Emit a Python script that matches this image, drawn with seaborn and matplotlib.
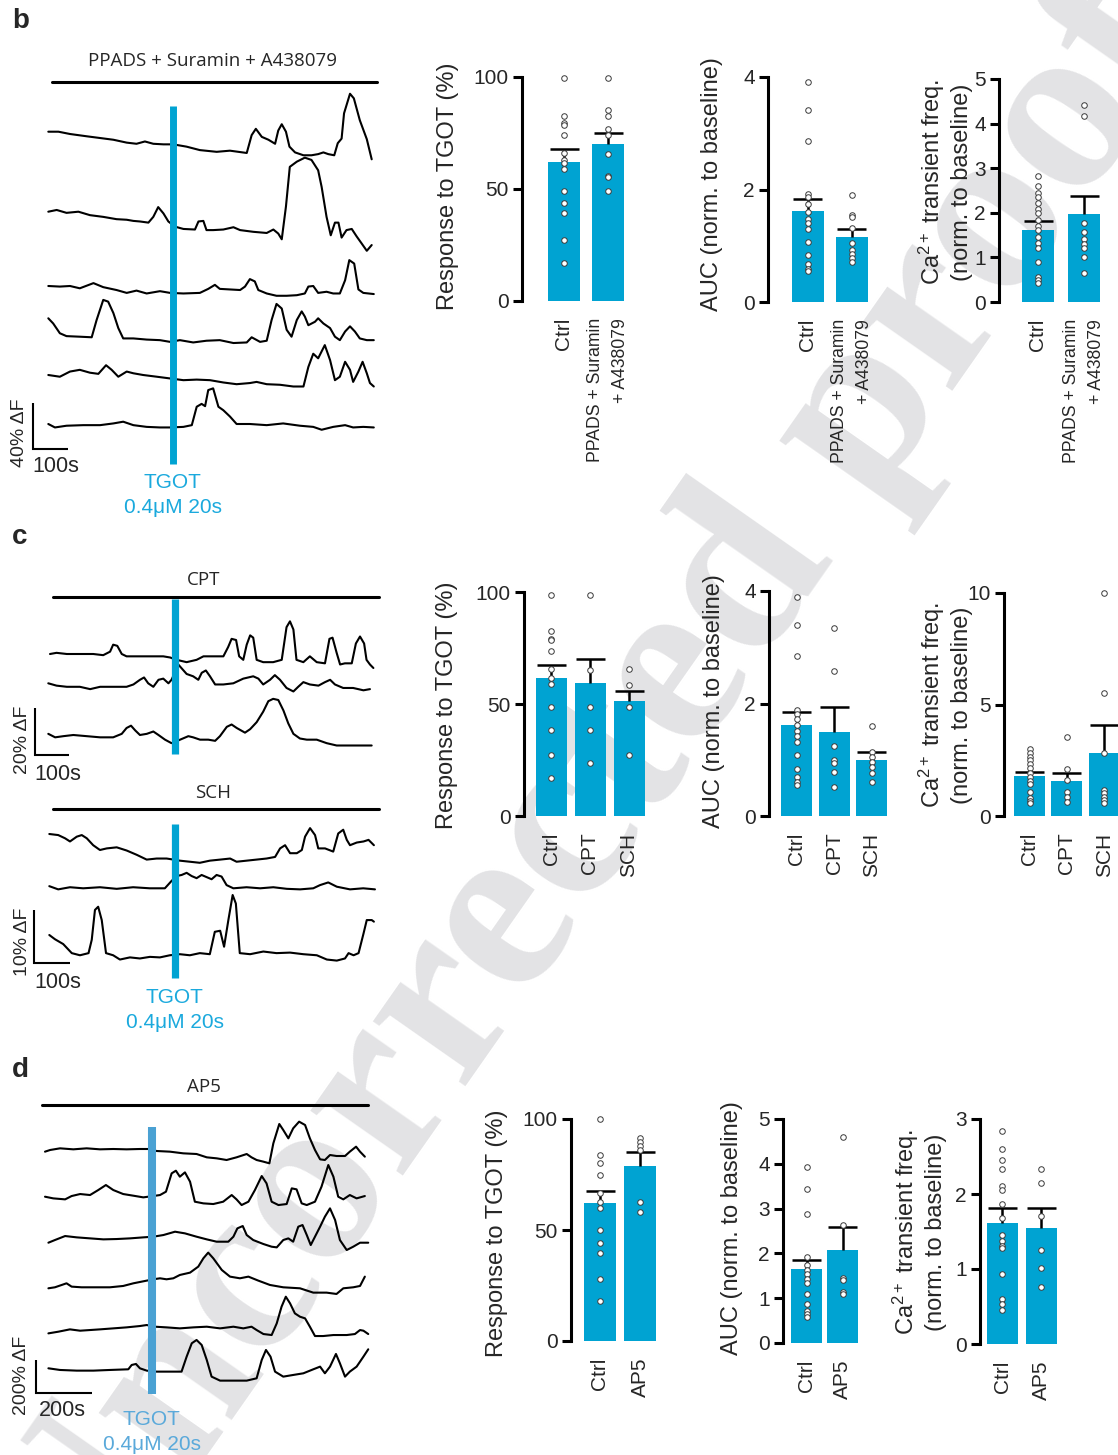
import numpy as np
import matplotlib
matplotlib.use("Agg")
import matplotlib.pyplot as plt
import seaborn as sns

# ---------------- traces (time in s, dF in %) ----------------
# panel b : PPADS + Suramin + A438079
b_t1 = [0, 29, 62, 110, 148, 186, 224, 252, 276, 300, 329, 357, 395, 433, 481, 519, 567, 581, 593, 610, 629, 648, 657, 667, 679, 689, 705, 729, 752, 771, 786, 800, 817, 827, 838, 845, 862, 873, 890, 910, 924]
b_y1 = [0, 0, -2, -4, -5.5, -7, -9.5, -10.5, -8.5, -10.5, -11, -11, -13, -16, -17.5, -16.5, -18.5, -3, 2.5, -4.5, -7, -10.5, 1, 6.5, 0, -13, -18, -20.5, -20.5, -19.5, -18, -19.5, -20.5, -10, -6, 16, 33, 29, 10, -6.5, -24]
b_t2 = [0, 24, 52, 86, 119, 157, 195, 224, 243, 262, 286, 300, 314, 329, 343, 362, 386, 419, 429, 443, 452, 471, 500, 529, 548, 586, 624, 643, 657, 667, 679, 690, 710, 733, 752, 771, 781, 795, 807, 819, 829, 838, 852, 867, 881, 895, 910, 924]
b_y2 = [0, 1.5, -1, 0, -3, -4.5, -6.5, -7, -8, -8.5, -9.5, -4.5, 4, -1.5, -8.5, -13, -15, -15.5, -8.5, -8, -16, -16, -15.5, -13.5, -16, -17.5, -18.5, -15.5, -19, -24, 4.5, 39, 43.5, 47, 45, 36, 21.5, -4.5, -20.5, -9.5, -9.5, -22.5, -16, -15, -21.5, -27.5, -34, -29]
b_t3 = [0, 33, 62, 90, 129, 157, 195, 224, 252, 281, 319, 348, 386, 433, 457, 476, 490, 519, 548, 562, 576, 590, 600, 624, 652, 681, 710, 733, 743, 757, 771, 795, 814, 833, 848, 860, 874, 886, 900, 930]
b_y3 = [0, -0.5, 0, -2, 2.5, -1, -3.5, -6, -4, -6.5, -4.5, -6, -6.5, -6, -2.5, 1, -2.5, -3, -3.5, -0.5, 6, 4, -3.5, -6.5, -8.5, -8.5, -8, -6.5, -0.5, 0, -6, -5, -6.5, -6.5, 5, 22.5, 19.5, -3, -6, -7]
b_t4 = [0, 14, 33, 52, 90, 124, 138, 157, 171, 186, 200, 214, 243, 281, 319, 348, 376, 414, 452, 490, 529, 567, 581, 605, 624, 638, 652, 667, 681, 695, 710, 724, 733, 743, 762, 771, 786, 805, 819, 833, 848, 862, 876, 890, 910, 930]
b_y4 = [0, -4.5, -13, -15.5, -16, -16.5, -1.5, 16, 14.5, 4.5, -8.5, -17.5, -17.5, -18.5, -19, -20.5, -19, -21, -19.5, -19, -21.5, -21, -16.5, -20.5, -19.5, -1.5, 12.5, 8.5, -10, -16, -1.5, 6, 1.5, -6, -3, 0, -4.5, -8.5, -16, -19, -11.5, -7, -11.5, -17.5, -19, -19]
b_t5 = [0, 33, 62, 90, 119, 143, 165, 181, 200, 224, 243, 271, 310, 348, 386, 424, 462, 500, 538, 576, 595, 624, 662, 700, 729, 743, 757, 771, 790, 805, 819, 833, 848, 862, 871, 886, 898, 910, 919, 930]
b_y5 = [0, -1.5, 3, 4.5, 2, 1, 8.5, 4.5, -1.5, 3, 1.5, 0, -1.5, -3, -4.5, -4, -4.5, -6.5, -8, -7, -6, -8, -8.5, -10, -10, 7, 18.5, 14.5, 26, 13, -4.5, -1.5, 11.5, 4.5, -6, 3, 11.5, 1.5, -7, -10]
b_t6 = [0, 19, 52, 100, 148, 186, 214, 243, 281, 319, 348, 386, 410, 424, 438, 448, 457, 471, 486, 500, 519, 538, 576, 624, 671, 719, 757, 781, 814, 848, 871, 900, 930]
b_y6 = [0, -3, -1.5, -1, -1, 0.5, 2, -1, -2.5, -3, -3, -2.5, -1, 15, 17.5, 15.5, 29.5, 31, 15, 12, 6.5, 0, 0, -1, 0.5, -1.5, -2.5, -5, -2.5, -1, -3, -2.5, -3]

# panel c : CPT
c_t1 = [0, 19, 49, 87, 126, 155, 175, 184, 196, 209, 223, 262, 301, 330, 350, 369, 398, 427, 447, 476, 505, 519, 529, 542, 551, 563, 573, 583, 592, 602, 621, 650, 675, 689, 699, 709, 718, 738, 757, 777, 801, 814, 823, 835, 845, 859, 879, 891, 903, 915, 922, 932, 942]
c_y1 = [0, 0.5, 0, 0, 0, -0.5, 1, 4, 3.5, 0, -1, -1, -1, -1, -1.5, -2.5, -3.5, -2.5, -1, -1, -1, 3, 6.5, 6, -1, -2.5, 4, 8, 7, -2.5, -3.5, -3.5, -2.5, 11.5, 14, 10.5, -2.5, -3.5, -1, -3.5, -4, 6.5, 7, 0.5, -4.5, -4, -4, 4.5, 7.5, 4.5, -2.5, -4.5, -6]
c_t2 = [-5, 19, 49, 87, 117, 146, 184, 223, 243, 262, 274, 286, 301, 316, 330, 345, 354, 374, 398, 417, 432, 442, 454, 466, 481, 505, 534, 563, 592, 607, 621, 641, 655, 670, 689, 709, 723, 738, 757, 782, 801, 816, 830, 854, 883, 913, 932]
c_y2 = [0, -1, -1.5, -1.5, -2.5, -1.5, -1.5, -1.5, -0.5, 1.5, 2.5, 0, -1.5, 1.5, 2, 0, 1.5, 8, 4, 3, 1.5, 4.5, 5.5, 3, -0.5, -0.5, 0, 2, 3, 2, -0.5, 1.5, 3.5, 1.5, -2, -3.5, -1.5, 0.5, -0.5, -1, 0.5, 1.5, -0.5, -2, -2, -3, -2.5]
c_t3 = [-5, 15, 39, 68, 107, 146, 184, 209, 223, 236, 248, 262, 282, 301, 316, 335, 354, 379, 403, 417, 437, 461, 481, 495, 515, 529, 544, 568, 583, 602, 621, 636, 650, 665, 680, 694, 709, 728, 748, 777, 806, 835, 874, 903, 937]
c_y3 = [0.5, -1, -0.5, 0, -0.5, -1, -1, 0.5, 3, 4, 2, 0, 0.5, 1.5, 0, -2, -3.5, -2, -0.5, -1, -2, -2, -2.5, -0.5, 3.5, 4.5, 3, 1, 2.5, 5.5, 10, 14.5, 15.5, 15, 10.5, 5, 0.5, -1.5, -2, -2, -3.5, -4.5, -4.5, -4.5, -4.5]

# panel c : SCH
s_t1 = [0, 25, 44, 58, 77, 91, 105, 123, 142, 161, 189, 217, 245, 273, 301, 329, 348, 366, 394, 422, 450, 479, 507, 525, 553, 581, 609, 633, 647, 661, 675, 694, 708, 717, 731, 745, 754, 773, 796, 810, 824, 834, 843, 862, 881, 895, 910]
s_y1 = [0, -0.2, -0.8, -1.4, -0.5, -0.2, -0.8, -2.1, -3, -2.7, -2.5, -3.1, -3.9, -4.8, -4.6, -4.6, -4.8, -5, -5.2, -5.4, -5, -4.8, -4.6, -5.2, -5, -4.8, -4.6, -4.3, -2.7, -2.1, -3.6, -3.6, -3, -0.5, 1.1, -0.2, -2.7, -2.7, -3.3, 0.1, 0.8, -1.1, -2.1, -1.6, -1.4, -1.1, -2.1]
s_t2 = [0, 25, 58, 95, 142, 189, 235, 282, 324, 343, 357, 371, 385, 399, 413, 427, 441, 455, 469, 483, 497, 516, 553, 591, 628, 666, 703, 740, 759, 782, 806, 843, 880, 913]
s_y2 = [0.1, -0.5, -0.1, -0.3, -0.1, -0.4, -0.1, -0.3, -0.3, 1.1, 2, 2.2, 2.6, 2, 1.6, 2.2, 1.8, 1.4, 2.2, 1.9, 0.3, -0.3, -0.1, -0.3, -0.1, -0.4, -0.5, -0.3, 0.3, 0.8, 0, -0.5, -0.3, -0.5]
s_t3 = [0, 16, 39, 63, 86, 110, 119, 128, 137, 147, 159, 179, 198, 226, 254, 282, 310, 338, 366, 394, 422, 450, 464, 479, 490, 502, 514, 523, 534, 563, 600, 637, 675, 712, 750, 778, 806, 829, 839, 853, 867, 881, 890, 904, 910]
s_y3 = [0, -0.8, -1.7, -3.4, -3.8, -3.4, -0.9, 4.7, 5.3, 2.8, -3.4, -3.8, -4.6, -4.2, -4.4, -4.1, -4.2, -3.8, -3.6, -3.8, -3.4, -3.6, 0.6, 0.8, -2.2, 2.8, 7.5, 5.9, -3.4, -3.6, -3.1, -3.4, -3.3, -3.6, -3.8, -4.6, -4.8, -4.4, -3.4, -3.8, -3.4, 0.3, 2.8, 2.8, 2.5]

# panel d : AP5
d_t1 = [0, 18, 53, 100, 147, 194, 241, 288, 335, 365, 394, 441, 488, 535, 571, 606, 641, 676, 712, 729, 747, 771, 792, 806, 827, 841, 859, 876, 897, 918, 935, 953, 971, 988, 1006, 1029, 1059, 1076, 1098, 1112, 1129]
d_y1 = [-10, 0, 10, 4, 10, 4, 6, 4, 6, 6, -6, -10, -20, -24, -44, -50, -60, -44, -24, -44, -60, -70, -80, 40, 156, 120, 70, 130, 170, 150, 70, 0, -56, -60, -30, -36, -36, -10, 20, -10, -40]
d_t2 = [0, 29, 71, 94, 124, 159, 188, 215, 241, 276, 312, 347, 382, 406, 427, 447, 462, 476, 494, 512, 529, 559, 594, 629, 659, 676, 694, 718, 741, 765, 782, 800, 824, 853, 871, 888, 906, 924, 953, 976, 1000, 1018, 1035, 1053, 1076, 1100, 1129]
d_y2 = [0, -10, -16, 4, 16, 10, 40, 70, 40, 16, 6, -4, 4, 10, 30, 140, 156, 120, 146, 90, -30, -40, -44, -30, 10, -16, -50, -30, 40, 124, 80, -30, -50, -44, 50, 44, -40, -50, -30, 60, 190, 120, 0, -16, 10, -10, 4]
d_t3 = [12, 35, 71, 112, 159, 206, 253, 300, 347, 382, 418, 459, 494, 535, 571, 606, 647, 665, 679, 698, 712, 735, 771, 800, 818, 841, 859, 876, 894, 909, 924, 938, 953, 971, 988, 1006, 1024, 1041, 1065, 1088, 1112, 1141]
d_y3 = [-6, 10, 34, 26, 20, 14, 16, 20, 26, 30, 40, 60, 50, 30, 14, 0, 0, 30, 80, 94, 40, 10, -14, -30, -34, 10, 20, 0, 90, 100, 40, -20, 30, 90, 150, 200, 130, 10, -50, -30, -6, -6]
d_t4 = [12, 35, 59, 76, 94, 129, 176, 229, 276, 312, 359, 382, 406, 429, 453, 476, 512, 541, 559, 576, 594, 624, 653, 688, 718, 753, 794, 841, 900, 947, 994, 1029, 1053, 1088, 1112, 1129]
d_y4 = [-6, 0, 14, 24, 4, 0, 0, 0, 8, 24, 40, 48, 54, 48, 54, 74, 88, 124, 174, 208, 174, 104, 64, 54, 64, 40, 14, 0, -6, -32, -32, -40, -6, 0, 8, 64]
d_t5 = [12, 47, 88, 124, 159, 194, 241, 288, 335, 359, 388, 429, 476, 524, 571, 618, 665, 700, 729, 747, 771, 800, 818, 835, 850, 865, 882, 900, 918, 935, 953, 982, 1018, 1065, 1094, 1112, 1124, 1141]
d_y5 = [-4, 6, 20, 12, 16, 20, 26, 32, 40, 46, 36, 32, 26, 32, 36, 26, 36, 26, 36, 16, -8, -14, 56, 156, 216, 176, 116, 96, 86, 36, -20, -20, -14, -14, -8, 16, 12, -8]
d_t6 = [12, 53, 112, 171, 229, 294, 306, 321, 335, 359, 394, 441, 482, 500, 518, 535, 553, 571, 588, 618, 665, 712, 747, 765, 780, 796, 812, 841, 876, 912, 947, 971, 988, 1006, 1027, 1041, 1059, 1076, 1100, 1124, 1141]
d_y6 = [0, -10, -14, -14, -10, -6, 20, 26, 0, -14, -20, -20, -20, 70, 150, 170, 140, 50, -50, -74, -74, -74, -60, 50, 110, 70, -20, -50, -40, -30, -6, 10, -30, 10, 86, 30, -50, -20, 10, 70, 114]

# TGOT application time (s) per panel
tgot_b, tgot_cpt, tgot_sch, tgot_d = 356, 364, 352, 376

# ---------------- bar data ----------------
b_cats = ['Ctrl', 'PPADS + Suramin\n+ A438079']
b_resp_mean, b_resp_sem = [62, 70], [6, 4.8]
b_resp_ctrl = [99.4, 82.7, 79.3, 78.7, 74, 66, 63, 61.5, 59, 49, 43.7, 39.3, 27.4, 17]
b_resp_drug = [99.4, 85.2, 82.5, 76.9, 74, 65.8, 56, 55.3, 49]
b_auc_mean, b_auc_sem = [1.62, 1.15], [0.22, 0.14]
b_auc_ctrl = [3.92, 3.42, 2.86, 1.92, 1.87, 1.74, 1.60, 1.47, 1.40, 1.30, 1.06, 0.83, 0.67, 0.59, 0.55]
b_auc_drug = [1.91, 1.55, 1.52, 1.31, 1.05, 0.92, 0.85, 0.78, 0.71]
b_frq_mean, b_frq_sem = [1.61, 1.97], [0.20, 0.41]
b_frq_ctrl = [2.83, 2.59, 2.45, 2.35, 2.23, 2.08, 2.0, 1.84, 1.71, 1.61, 1.46, 1.33, 1.22, 0.90, 0.56, 0.49, 0.43]
b_frq_drug = [4.41, 4.16, 1.78, 1.57, 1.42, 1.30, 1.20, 1.01, 0.66]

c_cats = ['Ctrl', 'CPT', 'SCH']
c_resp_mean, c_resp_sem = [61.5, 59.3, 51.3], [6, 10.8, 4.6]
c_resp_ctrl = [98.8, 82.5, 79.2, 78.5, 73.7, 65.7, 61.8, 58.8, 48.7, 38.6, 27.2, 16.8]
c_resp_cpt = [98.8, 65.4, 48.7, 38.6, 23.8]
c_resp_sch = [65.5, 58.7, 48.7, 27.2]
c_auc_mean, c_auc_sem = [1.61, 1.49, 1.00], [0.24, 0.44, 0.13]
c_auc_ctrl = [3.90, 3.40, 2.85, 1.89, 1.82, 1.73, 1.61, 1.51, 1.42, 1.31, 1.08, 0.84, 0.70, 0.61, 0.55]
c_auc_cpt = [3.35, 2.57, 1.25, 1.00, 0.95, 0.79, 0.52]
c_auc_sch = [1.60, 1.14, 1.05, 0.96, 0.87, 0.76, 0.60]
c_frq_mean, c_frq_sem = [1.80, 1.57, 2.83], [0.19, 0.38, 1.23]
c_frq_ctrl = [2.99, 2.84, 2.66, 2.50, 2.32, 2.14, 1.92, 1.77, 1.59, 1.44, 1.06, 0.79, 0.69, 0.57]
c_frq_cpt = [3.56, 2.10, 1.62, 1.06, 0.84, 0.64]
c_frq_sch = [10.0, 5.51, 2.83, 1.17, 1.02, 0.87, 0.72, 0.60]

d_cats = ['Ctrl', 'AP5']
d_resp_mean, d_resp_sem = [62.3, 78.9], [5.4, 6.2]
d_resp_ctrl = [100, 83.8, 80.2, 74.9, 66.5, 62.6, 59.8, 49.8, 44.2, 39.7, 28.1, 17.9]
d_resp_ap5 = [91.4, 89.5, 87.7, 85.9, 62.7, 58.2]
d_auc_mean, d_auc_sem = [1.65, 2.07], [0.21, 0.53]
d_auc_ctrl = [3.93, 3.43, 2.87, 1.93, 1.75, 1.63, 1.53, 1.43, 1.33, 1.10, 0.87, 0.72, 0.64, 0.58]
d_auc_ap5 = [4.60, 2.64, 1.44, 1.40, 1.13, 1.09]
d_frq_mean, d_frq_sem = [1.62, 1.55], [0.19, 0.26]
d_frq_ctrl = [2.84, 2.60, 2.46, 2.33, 2.11, 2.06, 1.87, 1.68, 1.46, 1.37, 1.31, 1.28, 0.93, 0.60, 0.54, 0.45]
d_frq_ap5 = [2.34, 2.15, 1.71, 1.25, 1.02, 0.76]

# ---------------- style ----------------
W, H = 1118, 1455
sns.set_theme(style="white")
plt.rcParams['font.family'] = ['Liberation Sans', 'DejaVu Sans']
plt.rcParams['axes.facecolor'] = 'none'
plt.rcParams['mathtext.fontset'] = 'custom'
plt.rcParams['mathtext.rm'] = 'Liberation Sans'
plt.rcParams['mathtext.it'] = 'Liberation Sans:italic'
plt.rcParams['mathtext.bf'] = 'Liberation Sans:bold'

BLUE = '#00a3d2'
TXT_BLUE = '#1aa9dd'
D_BLUE = '#4aa1d3'
D_TXT = '#5aa9da'

fig = plt.figure(figsize=(W / 100, H / 100), dpi=100)

# watermark behind everything
bg = fig.add_axes([0, 0, 1, 1])
bg.set_zorder(-10)
bg.set_xlim(0, W)
bg.set_ylim(H, 0)
bg.axis('off')
bg.text(592, 800, 'Uncorrected proof', rotation=55, ha='center', va='center',
        rotation_mode='anchor', fontsize=177, family='Liberation Serif',
        weight='bold', color='#e3e3e5')


def trace_panel(traces, bases, x0, sx, sy):
    y0 = bases[-1]
    ax = fig.add_axes([0, 0, 1, 1])
    ax.set_xlim(-x0 / sx, (W - x0) / sx)
    ax.set_ylim((y0 - H) / sy, y0 / sy)
    ax.axis('off')
    for (t, v), base in zip(traces, bases):
        off = (y0 - base) / sy
        sns.lineplot(x=t, y=np.asarray(v, float) + off, ax=ax, color='black',
                     linewidth=1.5, sort=False, estimator=None)
    return ax


def bar_panel(L, T, B, c0, step, bw, cats, means, sems, groups, ymax, yticks,
              ylabel, lab_xy):
    n = len(cats)
    R = c0 + step * (n - 1) + 0.5 * bw + 8
    ax = fig.add_axes([L / W, 1 - B / H, (R - L) / W, (B - T) / H])
    sns.barplot(x=cats, y=means, color=BLUE, saturation=1, width=bw / step,
                ax=ax, errorbar=None, edgecolor='none')
    xs = np.arange(n)
    tops = np.array(means) + np.array(sems)
    ax.vlines(xs, means, tops, color='black', lw=1.8, zorder=3)
    cw = 14.5 / step
    ax.hlines(tops, xs - cw, xs + cw, color='black', lw=1.8, zorder=3)
    xd, yd = [], []
    for c, g in zip(cats, groups):
        xd += [c] * len(g)
        yd += list(g)
    sns.stripplot(x=xd, y=yd, order=cats, jitter=False, color='white',
                  edgecolor='#3a3a3a', linewidth=0.7, size=4, ax=ax,
                  zorder=4, clip_on=False)
    ax.set_xlim(-(c0 - L) / step, (R - c0) / step)
    ax.set_ylim(0, ymax)
    ax.set_yticks(yticks)
    for s in ['top', 'right', 'bottom']:
        ax.spines[s].set_visible(False)
    ax.spines['left'].set_linewidth(2.2)
    ax.spines['left'].set_color('black')
    ax.tick_params(axis='y', left=True, length=6.5, width=2.2, labelsize=15,
                   pad=3, color='black')
    ax.tick_params(axis='x', length=0, pad=12, labelsize=15)
    ax.set_xlabel('')
    for lbl in ax.get_xticklabels():
        lbl.set_rotation(90)
        lbl.set_va('top')
        lbl.set_ha('center')
        lbl.set_multialignment('right')
        if '\n' in lbl.get_text():
            lbl.set_fontsize(12.7)
            lbl.set_linespacing(1.65)
    ax.set_ylabel(ylabel, fontsize=17, va='center', multialignment='center')
    cx, cy = lab_xy
    ax.yaxis.set_label_coords((cx - L) / (R - L), (B - cy) / (B - T))
    return ax


# ---------------- traces ----------------
b_bases = [131.7, 211.7, 286, 318.3, 375, 424]
trace_panel([(b_t1, b_y1), (b_t2, b_y2), (b_t3, b_y3), (b_t4, b_y4),
             (b_t5, b_y5), (b_t6, b_y6)], b_bases, 48.3, 0.35, 1.15)
cpt_bases = [654, 683.3, 735]
trace_panel([(c_t1, c_y1), (c_t2, c_y2), (c_t3, c_y3)], cpt_bases, 50, 0.3433, 2.333)
sch_bases = [834, 886.7, 935]
trace_panel([(s_t1, s_y1), (s_t2, s_y2), (s_t3, s_y3)], sch_bases, 49.3, 0.3567, 5.333)
d_bases = [1150, 1196.7, 1241.7, 1287.3, 1332.7, 1368.3]
trace_panel([(d_t1, d_y1), (d_t2, d_y2), (d_t3, d_y3), (d_t4, d_y4),
             (d_t5, d_y5), (d_t6, d_y6)], d_bases, 45, 0.2833, 0.1667)

# ---------------- bars ----------------
ca_lab = 'Ca$^{2+}$ transient freq.\n(norm. to baseline)'
resp_lab = 'Response to TGOT (%)'
auc_lab = 'AUC (norm. to baseline)'

bar_panel(522, 77, 301, 564, 44, 32, b_cats, b_resp_mean, b_resp_sem,
          [b_resp_ctrl, b_resp_drug], 100, [0, 50, 100], resp_lab, (448, 186))
bar_panel(768, 77, 302, 808, 44, 32, b_cats, b_auc_mean, b_auc_sem,
          [b_auc_ctrl, b_auc_drug], 4, [0, 2, 4], auc_lab, (712, 184))
bar_panel(999, 79, 302, 1038, 46, 32, b_cats, b_frq_mean, b_frq_sem,
          [b_frq_ctrl, b_frq_drug], 5, [0, 1, 2, 3, 4, 5], ca_lab, (945, 182))

bar_panel(524, 592, 816, 551, 39, 31, c_cats, c_resp_mean, c_resp_sem,
          [c_resp_ctrl, c_resp_cpt, c_resp_sch], 100, [0, 50, 100], resp_lab, (447, 705))
bar_panel(769, 591, 816, 796.5, 37.7, 31, c_cats, c_auc_mean, c_auc_sem,
          [c_auc_ctrl, c_auc_cpt, c_auc_sch], 4, [0, 2, 4], auc_lab, (714, 701))
bar_panel(1004, 593, 816, 1029.5, 37.3, 31, c_cats, c_frq_mean, c_frq_sem,
          [c_frq_ctrl, c_frq_cpt, c_frq_sch], 10, [0, 5, 10], ca_lab, (945, 705))

bar_panel(571, 1119, 1341, 600, 40, 32, d_cats, d_resp_mean, d_resp_sem,
          [d_resp_ctrl, d_resp_ap5], 100, [0, 50, 100], resp_lab, (497, 1233))
bar_panel(783, 1119, 1343, 806.5, 36, 31, d_cats, d_auc_mean, d_auc_sem,
          [d_auc_ctrl, d_auc_ap5], 5, [0, 1, 2, 3, 4, 5], auc_lab, (732, 1228))
bar_panel(980, 1119, 1344, 1002.3, 39, 31, d_cats, d_frq_mean, d_frq_sem,
          [d_frq_ctrl, d_frq_ap5], 3, [0, 1, 2, 3], ca_lab, (919, 1232))

# ---------------- overlay: labels, bars, stimulus, scale bars ----------------
ov = fig.add_axes([0, 0, 1, 1])
ov.set_xlim(0, W)
ov.set_ylim(H, 0)
ov.axis('off')

for letter, y in [('b', 28), ('c', 544), ('d', 1077)]:
    ov.text(12, y, letter, fontsize=20, weight='bold', va='baseline', ha='left')

title_kw = dict(family='Open Sans', fontsize=13.5, ha='center', va='center')
ov.text(212, 61, 'PPADS + Suramin + A438079', **title_kw)
ov.plot([52, 377], [82, 82], color='black', lw=2.2)
ov.text(204, 580, 'CPT', **title_kw)
ov.plot([53, 379], [597, 597], color='black', lw=2.2)
ov.text(213, 793, 'SCH', **title_kw)
ov.plot([53, 379], [809, 809], color='black', lw=2.2)
ov.text(204, 1087, 'AP5', **title_kw)
ov.plot([42, 368], [1105, 1105], color='black', lw=2.2)


def stim(x0, sx, t_app, y_top, y_bot, color, lw):
    x = x0 + sx * t_app
    ov.plot([x, x], [y_top, y_bot], color=color, lw=lw, solid_capstyle='butt')
    return x


def scalebar(cx, cy, sx, sy, sec, pct, lab_v, lab_v_xy, lab_h, lab_h_xy):
    ov.plot([cx, cx, cx + sx * sec], [cy - sy * pct, cy, cy], color='black',
            lw=1.5, solid_joinstyle='miter', solid_capstyle='butt')
    ov.text(*lab_v_xy, lab_v, rotation=90, fontsize=14, ha='center', va='center')
    ov.text(*lab_h_xy, lab_h, fontsize=15.5, ha='center', va='center')


xb = stim(48.3, 0.35, tgot_b, 106, 464, BLUE, 5.0)
stim(50, 0.3433, tgot_cpt, 599, 754, BLUE, 5.2)
xs_ = stim(49.3, 0.3567, tgot_sch, 824, 978, BLUE, 5.2)
xd = stim(45, 0.2833, tgot_d, 1127, 1394, D_BLUE, 5.8)

for x, y1, y2, col in [(xb, 488, 513, TXT_BLUE), (xs_, 1003, 1028, TXT_BLUE),
                       (xd, 1425, 1450, D_TXT)]:
    ov.text(x, y1, 'TGOT', fontsize=15, color=col, ha='center', va='baseline')
    ov.text(x, y2, '0.4μM 20s', fontsize=15, color=col, ha='center', va='baseline')

scalebar(33.3, 449, 0.35, 1.15, 100, 40, '40% ΔF', (19, 433), '100s', (56, 467))
scalebar(35, 755, 0.3433, 2.333, 100, 20, '20% ΔF', (22.5, 740), '100s', (58, 774))
scalebar(34, 963.3, 0.3567, 5.333, 100, 10, '10% ΔF', (22.5, 942), '100s', (57.5, 982))
scalebar(35.7, 1393.3, 0.2833, 0.1667, 200, 200, '200% ΔF', (21, 1375), '200s', (62.5, 1410))

fig.savefig('out.png', dpi=100)
